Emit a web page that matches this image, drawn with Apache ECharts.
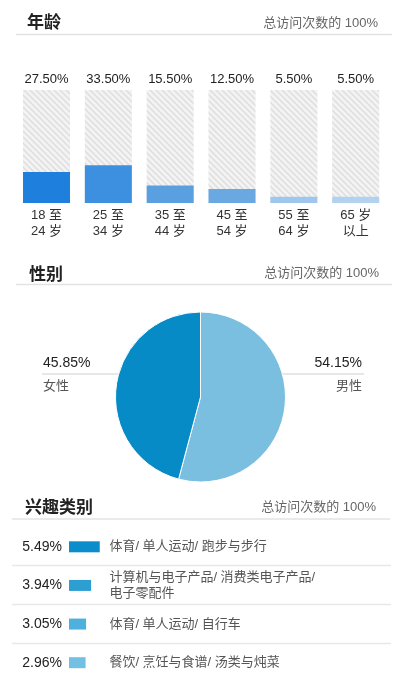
<!DOCTYPE html>
<html>
<head>
<meta charset="utf-8">
<script src="https://cdn.jsdelivr.net/npm/echarts@6/dist/echarts.min.js"></script>
<style>
  html, body { margin: 0; padding: 0; background: #fff; }
  #main { width: 404px; height: 682px; }
</style>
</head>
<body>
<div id="main"></div>
<script>
// age section
var ageLabels = ['18 至\n24 岁', '25 至\n34 岁', '35 至\n44 岁', '45 至\n54 岁', '55 至\n64 岁', '65 岁\n以上'];
var ageValues = [27.5, 33.5, 15.5, 12.5, 5.5, 5.5];
var ageColors = ['#1e80dc', '#3d90df', '#5aa0e0', '#6aa8e2', '#9fc6ec', '#b3d2f0'];

// gender section
var genderNames = ['男性', '女性'];
var genderValues = [54.15, 45.85];
var genderColors = ['#7abfe0', '#078bc7'];

// interest section
var interestNames = ['体育/ 单人运动/ 跑步与步行', '计算机与电子产品/ 消费类电子产品/\n电子零配件', '体育/ 单人运动/ 自行车', '餐饮/ 烹饪与食谱/ 汤类与炖菜'];
var interestValues = [5.49, 3.94, 3.05, 2.96];
var interestColors = ['#0a8dca', '#2d9ed2', '#4eb0dc', '#74c0e4'];

var sectionTitles = ['年龄', '性别', '兴趣类别'];
var totalText = '总访问次数的 100%';

var FONT = '"Liberation Sans", Arial, "Noto Sans CJK SC", sans-serif';

// hatched background for the age bars
function hatchPattern() {
    var size = 6;
    var c = document.createElement('canvas');
    c.width = size;
    c.height = size;
    var ctx = c.getContext('2d');
    ctx.fillStyle = '#f3f3f3';
    ctx.fillRect(0, 0, size, size);
    ctx.strokeStyle = '#dedede';
    ctx.lineWidth = 1.5;
    ctx.beginPath();
    ctx.moveTo(-1, -1); ctx.lineTo(size + 1, size + 1);
    ctx.moveTo(-1, size - 1); ctx.lineTo(1, size + 1);
    ctx.moveTo(size - 1, -1); ctx.lineTo(size + 1, 1);
    ctx.stroke();
    return c;
}

var pieCenter = [200.5, 397];
var pieRadius = 85;

function header(title, titleY, totalY, leftX, rightX, lineY, lineX1, lineX2) {
    return [
        {
            type: 'text', x: leftX, y: titleY,
            style: { text: title, font: 'bold 17px "Noto Sans CJK SC", sans-serif', fill: '#222', verticalAlign: 'middle' }
        },
        {
            type: 'text', x: rightX, y: totalY,
            style: { text: totalText, font: '13px ' + FONT, fill: '#666', align: 'right', verticalAlign: 'middle' }
        },
        {
            type: 'line',
            shape: { x1: lineX1, y1: lineY, x2: lineX2, y2: lineY },
            style: { stroke: '#e3e3e3', lineWidth: 1.5 }
        }
    ];
}

var graphics = []
    .concat(header(sectionTitles[0], 22, 23.5, 27, 378, 34.5, 16, 392))
    .concat(header(sectionTitles[1], 273.5, 273.5, 29, 379, 284.5, 16, 392))
    .concat(header(sectionTitles[2], 506.5, 507.5, 25, 376, 519, 12, 390));

// row separators in the interest list
[565.5, 604.5, 643.5].forEach(function (y) {
    graphics.push({
        type: 'line',
        shape: { x1: 12, y1: y, x2: 391, y2: y },
        style: { stroke: '#e8e8e8', lineWidth: 1.5 }
    });
});

var chart = echarts.init(document.getElementById('main'));

var option = {
    animation: false,
    backgroundColor: '#fff',
    textStyle: { fontFamily: FONT },
    graphic: graphics,
    grid: [
        { left: 15.6, width: 371, top: 90, height: 113 },
        { left: 69, width: 36.4, top: 527.5, height: 155.6 }
    ],
    xAxis: [
        {
            type: 'category', gridIndex: 0, data: ageLabels,
            axisLine: { show: false }, axisTick: { show: false },
            axisLabel: { color: '#333', fontSize: 13, lineHeight: 16, margin: 4, interval: 0 }
        },
        {
            type: 'value', gridIndex: 1, min: 0, max: 6.5, show: false
        }
    ],
    yAxis: [
        { type: 'value', gridIndex: 0, min: 0, max: 100, show: false },
        {
            type: 'category', gridIndex: 1, inverse: true, data: interestNames,
            axisLine: { show: false }, axisTick: { show: false }, splitLine: { show: false },
            axisLabel: {
                color: '#222', fontSize: 14, margin: 7,
                formatter: function (v, i) { return interestValues[i].toFixed(2) + '%'; }
            }
        },
        {
            type: 'category', gridIndex: 1, inverse: true, position: 'right', data: interestNames,
            axisLine: { show: false }, axisTick: { show: false }, splitLine: { show: false },
            axisLabel: { color: '#555', fontSize: 13, lineHeight: 16, margin: 4, align: 'left' }
        }
    ],
    series: [
        {
            type: 'bar', xAxisIndex: 0, yAxisIndex: 0,
            barWidth: 47, barGap: '-100%', silent: true,
            data: ageValues.map(function () { return 100; }),
            itemStyle: { color: { image: hatchPattern(), repeat: 'repeat' } },
            label: {
                show: true, position: 'top', distance: 4,
                color: '#222', fontSize: 13,
                formatter: function (p) { return ageValues[p.dataIndex].toFixed(2) + '%'; }
            }
        },
        {
            type: 'bar', xAxisIndex: 0, yAxisIndex: 0,
            barWidth: 47, barGap: '-100%', silent: true,
            data: ageValues.map(function (v, i) {
                return { value: v, itemStyle: { color: ageColors[i] } };
            })
        },
        {
            type: 'pie', center: pieCenter, radius: pieRadius,
            startAngle: 90, clockwise: true, silent: true,
            itemStyle: { borderColor: '#fff', borderWidth: 1 },
            data: genderValues.map(function (v, i) {
                return { name: genderNames[i], value: v, itemStyle: { color: genderColors[i] } };
            }),
            label: {
                show: true,
                formatter: function (p) { return '{p|' + p.value.toFixed(2) + '%}\n{n|' + p.name + '}'; },
                rich: {
                    p: { fontSize: 14, color: '#222', lineHeight: 23 },
                    n: { fontSize: 13, color: '#555', lineHeight: 23 }
                }
            },
            labelLine: { show: true, lineStyle: { color: '#cfcfcf', width: 1 } },
            labelLayout: function (params) {
                var ly = pieCenter[1] - 23;
                if (params.dataIndex === 1) {
                    return {
                        x: 43, y: ly + 0.5, align: 'left', verticalAlign: 'middle',
                        labelLinePoints: [[pieCenter[0] - 73.5, ly], [80, ly], [42, ly]]
                    };
                }
                return {
                    x: 362, y: ly + 0.5, align: 'right', verticalAlign: 'middle',
                    labelLinePoints: [[pieCenter[0] + 71.5, ly], [320, ly], [364, ly]]
                };
            }
        },
        {
            type: 'bar', xAxisIndex: 1, yAxisIndex: 1,
            barWidth: 11, silent: true,
            data: interestValues.map(function (v, i) {
                return { value: v, itemStyle: { color: interestColors[i] } };
            })
        }
    ]
};

chart.setOption(option);
</script>
</body>
</html>
